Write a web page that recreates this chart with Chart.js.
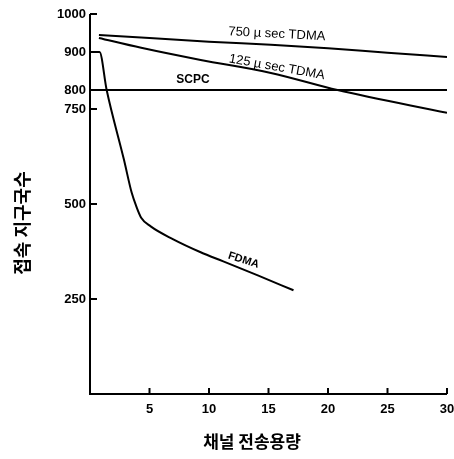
<!DOCTYPE html>
<html>
<head>
<meta charset="utf-8">
<script src="https://cdn.jsdelivr.net/npm/chart.js@4.4.0/dist/chart.umd.min.js"></script>
<style>
    body { margin: 0; background: #fff; }
    #wrap { width: 454px; height: 459px; }
</style>
</head>
<body>
<div id="wrap"><canvas id="myChart" width="454" height="459"></canvas></div>
<script>
// values
let xTicks = [5, 10, 15, 20, 25, 30];
let yTicks = [250, 500, 750, 800, 900, 1000];

let tdma750X = [0.75, 5, 10, 15.2, 20, 25, 30];
let tdma750Y = [945, 937, 927, 919, 910, 898, 887];

let tdma125X = [0.75, 4.3, 9.3, 15.2, 20.8, 30];
let tdma125Y = [937, 911, 879, 845, 800, 740];

let scpcX = [0, 30];
let scpcY = [800, 800];

let fdmaX = [0.2, 0.8, 1.4, 2.85, 3.5, 3.9, 4.3, 5.1, 7.0, 9.3, 11.2, 14.1, 17.1];
let fdmaY = [900, 900, 800, 617, 530, 493, 464, 441, 407, 373, 349, 312, 273];

let xTitle = '채널 전송용량';
let yTitle = '접속 지구국수';

function toPoints(xs, ys) {
    let pts = [];
    for (let i = 0; i < xs.length; i++) {
        pts.push({ x: xs[i], y: ys[i] });
    }
    return pts;
}

function lineSet(label, xs, ys) {
    return {
        label: label,
        data: toPoints(xs, ys),
        borderColor: '#000',
        borderWidth: 2,
        pointRadius: 0,
        cubicInterpolationMode: 'monotone',
        fill: false
    };
}

// text on the curves, anchored in data coordinates
const curveLabels = [
    { text: '750 \u00b5 sec TDMA', x: 15.7, y: 947, angle: 3, font: '13px "Liberation Sans"' },
    { text: '125 \u00b5 sec TDMA', x: 15.7, y: 860, angle: 10, font: '13px "Liberation Sans"' },
    { text: 'SCPC', x: 8.65, y: 826, angle: 0, font: 'bold 12px "Liberation Sans"' },
    { text: 'FDMA', x: 12.9, y: 352, angle: 18, font: 'bold 11px "Liberation Sans"' }
];

const innerTicks = {
    id: 'innerTicks',
    afterDraw(chart) {
        const ctx = chart.ctx;
        const xs = chart.scales.x;
        const ys = chart.scales.y;
        const left = xs.getPixelForValue(0);
        const bottom = ys.getPixelForValue(0);
        ctx.save();
        ctx.strokeStyle = '#000';
        ctx.lineWidth = 2;
        // axes
        ctx.beginPath();
        ctx.moveTo(left, ys.getPixelForValue(1000));
        ctx.lineTo(left, bottom);
        ctx.lineTo(xs.getPixelForValue(30), bottom);
        ctx.stroke();
        for (let v of yTicks) {
            let py = ys.getPixelForValue(v);
            ctx.beginPath();
            ctx.moveTo(left, py);
            ctx.lineTo(left + 7, py);
            ctx.stroke();
        }
        for (let v of xTicks) {
            let px = xs.getPixelForValue(v);
            ctx.beginPath();
            ctx.moveTo(px, bottom);
            ctx.lineTo(px, bottom - 6);
            ctx.stroke();
        }
        // curve names
        ctx.fillStyle = '#000';
        ctx.textAlign = 'center';
        ctx.textBaseline = 'middle';
        for (let l of curveLabels) {
            ctx.save();
            ctx.translate(xs.getPixelForValue(l.x), ys.getPixelForValue(l.y));
            ctx.rotate(l.angle * Math.PI / 180);
            ctx.font = l.font;
            ctx.fillText(l.text, 0, 0);
            ctx.restore();
        }
        // axis titles
        ctx.font = 'bold 17px "Noto Sans CJK KR"';
        ctx.fillText(xTitle, left + 162, 442);
        ctx.save();
        ctx.translate(22, ys.getPixelForValue(450));
        ctx.rotate(-Math.PI / 2);
        ctx.font = 'bold 18px "Noto Sans CJK KR"';
        ctx.fillText(yTitle, 0, 0);
        ctx.restore();
        ctx.restore();
    }
};

const tickFont = { family: '"Liberation Sans"', size: 13, weight: 'bold' };

const config = {
    type: 'line',
    data: {
        datasets: [
            lineSet('750 usec TDMA', tdma750X, tdma750Y),
            lineSet('125 usec TDMA', tdma125X, tdma125Y),
            lineSet('SCPC', scpcX, scpcY),
            lineSet('FDMA', fdmaX, fdmaY)
        ]
    },
    options: {
        responsive: false,
        animation: false,
        layout: { padding: { left: 0, right: 7, top: 14, bottom: 0 } },
        plugins: { legend: { display: false }, tooltip: { enabled: false } },
        scales: {
            x: {
                type: 'linear',
                min: 0,
                max: 30,
                grid: { display: false, drawTicks: false },
                border: { display: false },
                afterBuildTicks: (s) => { s.ticks = xTicks.map(v => ({ value: v })); },
                afterFit: (s) => { s.height = 65; s.paddingRight = 0; s.paddingLeft = 0; },
                ticks: { color: '#000', font: tickFont, padding: 8, maxRotation: 0 }
            },
            y: {
                type: 'linear',
                min: 0,
                max: 1000,
                grid: { display: false, drawTicks: false },
                border: { display: false },
                afterBuildTicks: (s) => { s.ticks = yTicks.map(v => ({ value: v })); },
                afterFit: (s) => { s.width = 90; s.paddingTop = 0; s.paddingBottom = 0; },
                ticks: { color: '#000', font: tickFont, padding: 4, callback: (v) => String(v) }
            }
        }
    },
    plugins: [innerTicks]
};

myChart = new Chart(document.getElementById('myChart'), config);
</script>
</body>
</html>
